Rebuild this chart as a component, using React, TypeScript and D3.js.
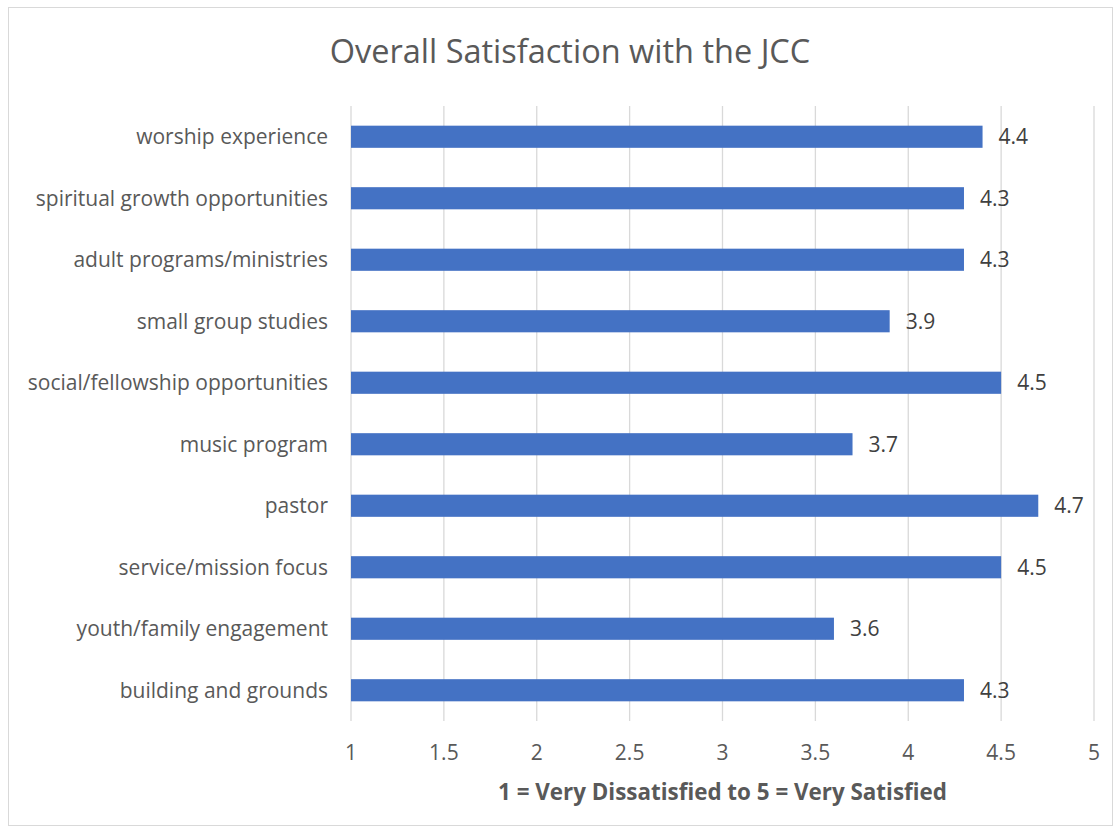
import * as d3 from "d3";
import { useEffect, useRef } from "react";

const categories = [
  "worship experience",
  "spiritual growth opportunities",
  "adult programs/ministries",
  "small group studies",
  "social/fellowship opportunities",
  "music program",
  "pastor",
  "service/mission focus",
  "youth/family engagement",
  "building and grounds",
];
const scores = [4.4, 4.3, 4.3, 3.9, 4.5, 3.7, 4.7, 4.5, 3.6, 4.3];
const xTicks = [1, 1.5, 2, 2.5, 3, 3.5, 4, 4.5, 5];

const chartTitle = "Overall Satisfaction with the JCC";
const axisTitle = "1 = Very Dissatisfied to 5 = Very Satisfied";

const App = () => {
  const svgRef = useRef<SVGSVGElement>(null);

  useEffect(() => {
    if (!svgRef.current) return;
    const svg = d3.select(svgRef.current);
    svg.selectAll("*").remove();

    const width = 1118;
    const height = 831;
    const marginLeft = 351;
    const marginRight = 24;
    const marginTop = 106;
    const marginBottom = 110;
    const font = "'Open Sans', Lato, sans-serif";

    const data = categories.map((c, i) => ({ name: c, value: scores[i] }));

    const x = d3.scaleLinear().domain([1, 5]).range([marginLeft, width - marginRight]);
    const y = d3
      .scaleBand()
      .domain(categories)
      .range([marginTop, height - marginBottom])
      .paddingInner(0.64)
      .paddingOuter(0.32);

    svg.attr("width", width).attr("height", height).attr("viewBox", [0, 0, width, height]);

    // outer frame
    svg
      .append("rect")
      .attr("x", 8.5)
      .attr("y", 7.5)
      .attr("width", 1104)
      .attr("height", 818)
      .attr("fill", "white")
      .attr("stroke", "#d9d9d9");

    // title
    svg
      .append("text")
      .attr("x", 570)
      .attr("y", 52)
      .attr("dy", "0.35em")
      .attr("text-anchor", "middle")
      .attr("font-family", font)
      .attr("font-size", 32.5)
      .attr("fill", "#595959")
      .text(chartTitle);

    // gridlines
    svg
      .append("g")
      .selectAll("line")
      .data(xTicks)
      .join("line")
      .attr("x1", (d) => x(d))
      .attr("x2", (d) => x(d))
      .attr("y1", marginTop)
      .attr("y2", height - marginBottom)
      .attr("stroke", "#d9d9d9")
      .attr("stroke-width", 1.3);

    // bars
    svg
      .append("g")
      .attr("fill", "#4472c4")
      .selectAll("rect")
      .data(data)
      .join("rect")
      .attr("x", x(1))
      .attr("y", (d) => y(d.name)!)
      .attr("width", (d) => x(d.value) - x(1))
      .attr("height", y.bandwidth());

    // value labels
    svg
      .append("g")
      .attr("font-family", font)
      .attr("font-size", 21)
      .attr("fill", "#404040")
      .selectAll("text")
      .data(data)
      .join("text")
      .attr("x", (d) => x(d.value) + 16)
      .attr("y", (d) => y(d.name)! + y.bandwidth() / 2)
      .attr("dy", "0.35em")
      .text((d) => d.value.toFixed(1));

    // category labels
    svg
      .append("g")
      .attr("font-family", font)
      .attr("font-size", 21)
      .attr("fill", "#595959")
      .attr("text-anchor", "end")
      .selectAll("text")
      .data(categories)
      .join("text")
      .attr("x", 328)
      .attr("y", (d) => y(d)! + y.bandwidth() / 2)
      .attr("dy", "0.35em")
      .text((d) => d);

    // x tick labels
    svg
      .append("g")
      .attr("font-family", font)
      .attr("font-size", 21)
      .attr("fill", "#595959")
      .attr("text-anchor", "middle")
      .selectAll("text")
      .data(xTicks)
      .join("text")
      .attr("x", (d) => x(d))
      .attr("y", 753)
      .attr("dy", "0.35em")
      .text((d) => d3.format("~g")(d));

    // axis title
    svg
      .append("text")
      .attr("x", (x(1) + x(5)) / 2)
      .attr("y", 792)
      .attr("dy", "0.35em")
      .attr("text-anchor", "middle")
      .attr("font-family", font)
      .attr("font-size", 22.4)
      .attr("font-weight", "bold")
      .attr("fill", "#595959")
      .text(axisTitle);
  }, []);

  return <svg ref={svgRef} style={{ position: "absolute", left: 0, top: 0 }}></svg>;
};

export default App;
